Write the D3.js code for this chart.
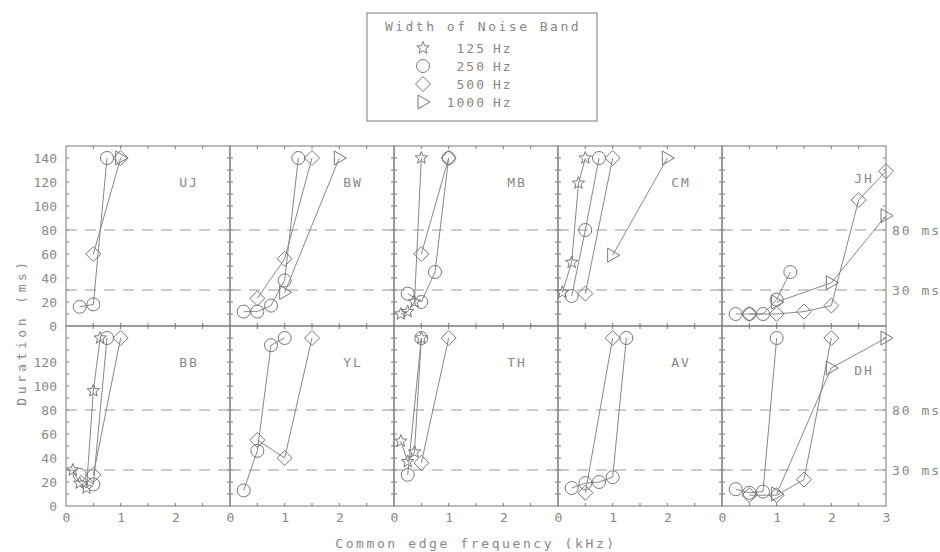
<!DOCTYPE html>
<html>
<head>
<meta charset="utf-8">
<title>Width of noise band</title>
<script src="https://d3js.org/d3.v7.min.js"></script>
<style>
  body { margin: 0; background: #fff; }
  text { font-family: "DejaVu Sans Mono", monospace; fill: #888; font-size: 13px; }
</style>
</head>
<body>
<script>
// bands and subjects
var bands = ['125', '250', '500', '1000']
var bandSymbols = ['star', 'circle', 'diamond', 'triangle']
var subjects = ['UJ', 'BW', 'MB', 'CM', 'JH', 'BB', 'YL', 'TH', 'AV', 'DH']

// [kHz, ms] points per band for each subject
var UJ = { '250': [[0.25, 16], [0.5, 18], [0.75, 140]],
           '500': [[0.5, 60], [1.0, 140]],
           '1000': [[1.0, 140]] }
var BW = { '250': [[0.25, 12], [0.5, 12], [0.75, 17], [1.0, 38], [1.25, 140]],
           '500': [[0.5, 23], [1.0, 56], [1.5, 140]],
           '1000': [[1.0, 28], [2.0, 140]] }
var MB = { '125': [[0.125, 10], [0.25, 12], [0.375, 20], [0.5, 140]],
           '250': [[0.25, 27], [0.5, 20], [0.75, 45], [1.0, 140]],
           '500': [[0.5, 60], [1.0, 140]] }
var CM = { '125': [[0.08, 28], [0.25, 53], [0.375, 119], [0.5, 140]],
           '250': [[0.25, 25], [0.5, 80], [0.75, 140]],
           '500': [[0.5, 27], [1.0, 140]],
           '1000': [[2.0, 140], [1.0, 59]] }
var JH = { '250': [[0.25, 10], [0.5, 10], [0.75, 10], [1.0, 22], [1.25, 45]],
           '500': [[0.5, 10], [1.0, 10], [1.5, 12], [2.0, 17], [2.5, 105], [3.0, 129]],
           '1000': [[1.0, 20], [2.0, 36], [3.0, 92]] }
var BB = { '125': [[0.125, 30], [0.25, 19], [0.375, 15], [0.5, 96], [0.625, 140]],
           '250': [[0.25, 26], [0.5, 18], [0.75, 140]],
           '500': [[0.5, 26], [1.0, 140]] }
var YL = { '250': [[0.25, 13], [0.5, 46], [0.75, 134], [1.0, 140]],
           '500': [[0.5, 55], [1.0, 40], [1.5, 140]] }
var TH = { '125': [[0.125, 54], [0.25, 37], [0.375, 45], [0.5, 140]],
           '250': [[0.25, 26], [0.5, 140]],
           '500': [[0.5, 36], [1.0, 140]] }
var AV = { '250': [[0.25, 15], [0.5, 19], [0.75, 20], [1.0, 24], [1.25, 140]],
           '500': [[0.5, 11], [1.0, 140]] }
var DH = { '250': [[0.25, 14], [0.5, 11], [0.75, 12], [1.0, 140]],
           '500': [[0.5, 9], [1.0, 9], [1.5, 22], [2.0, 140]],
           '1000': [[1.0, 10], [2.0, 115], [3.0, 140]] }
var subjectData = { UJ: UJ, BW: BW, MB: MB, CM: CM, JH: JH, BB: BB, YL: YL, TH: TH, AV: AV, DH: DH }

var yTicksTop = [0, 20, 40, 60, 80, 100, 120, 140]
var yTicksBottom = [0, 20, 40, 60, 80, 100, 120]
var refLines = [30, 80]

var w = 940, h = 552
var panelLeft = 66, panelTop = 146, pw = 164, ph = 180
var grey = '#7a7a7a'

var svg = d3.select('body').append('svg').attr('width', w).attr('height', h)

function symbolPath(type) {
    if (type == 'circle') return 'M6.5,0A6.5,6.5 0 1,1 -6.5,0A6.5,6.5 0 1,1 6.5,0Z'
    if (type == 'diamond') return 'M0,-7.5L7.5,0L0,7.5L-7.5,0Z'
    if (type == 'triangle') return 'M-5,-7L7,0L-5,7Z'
    var p = []
    for (var i = 0; i < 10; i++) {
        var r = i % 2 == 0 ? 6.5 : 2.8
        var a = -Math.PI / 2 + i * Math.PI / 5
        p.push([r * Math.cos(a), r * Math.sin(a)])
    }
    return 'M' + p.map(function(d) { return d[0].toFixed(2) + ',' + d[1].toFixed(2) }).join('L') + 'Z'
}

subjects.forEach(function(name, k) {
    var col = k % 5, row = Math.floor(k / 5)
    var x0 = panelLeft + col * pw, y0 = panelTop + row * ph
    var x = d3.scaleLinear().domain([0, 3]).range([x0, x0 + pw])
    var y = d3.scaleLinear().domain([0, 150]).range([y0 + ph, y0])
    var g = svg.append('g')

    g.append('rect').attr('x', x0).attr('y', y0).attr('width', pw).attr('height', ph)
        .attr('fill', 'none').attr('stroke', grey).attr('stroke-width', 1)

    // small inward ticks
    d3.range(10, 150, 10).forEach(function(v) {
        g.append('line').attr('x1', x(0)).attr('x2', x(0) + 3).attr('y1', y(v)).attr('y2', y(v)).attr('stroke', grey)
        g.append('line').attr('x1', x(3)).attr('x2', x(3) - 3).attr('y1', y(v)).attr('y2', y(v)).attr('stroke', grey)
    })
    d3.range(0.5, 3, 0.5).forEach(function(v) {
        g.append('line').attr('x1', x(v)).attr('x2', x(v)).attr('y1', y(0)).attr('y2', y(0) - 3).attr('stroke', grey)
        g.append('line').attr('x1', x(v)).attr('x2', x(v)).attr('y1', y(150)).attr('y2', y(150) + 3).attr('stroke', grey)
    })

    refLines.forEach(function(v) {
        g.append('line').attr('x1', x(0)).attr('x2', x(3)).attr('y1', y(v)).attr('y2', y(v))
            .attr('stroke', '#999').attr('stroke-dasharray', '11,8')
    })

    if (col == 0) {
        var ya = g.append('g').attr('transform', 'translate(' + x0 + ',0)')
            .call(d3.axisLeft(y).tickValues(row == 0 ? yTicksTop : yTicksBottom).tickSize(0).tickPadding(9))
        ya.select('.domain').remove()
        ya.selectAll('text').attr('fill', '#888').style('font-size', '13px').style('font-family', '"DejaVu Sans Mono", monospace')
    }
    if (row == 1) {
        var xa = g.append('g').attr('transform', 'translate(0,' + (y0 + ph) + ')')
            .call(d3.axisBottom(x).tickValues(col == 4 ? [0, 1, 2, 3] : [0, 1, 2]).tickFormat(d3.format('d')).tickSize(0).tickPadding(7))
        xa.select('.domain').remove()
        xa.selectAll('text').attr('fill', '#888').style('font-size', '13px').style('font-family', '"DejaVu Sans Mono", monospace')
    }
    if (col == 4) {
        refLines.forEach(function(v) {
            g.append('text').attr('x', x(3) + 6).attr('y', y(v)).attr('dy', '0.35em')
                .style('letter-spacing', '2px').text(v + ' ms')
        })
    }

    var lx = col == 4 ? 2.6 : 2.25
    var ly = col == 4 ? (row == 0 ? 123 : 113) : 120
    g.append('text').attr('x', x(lx)).attr('y', y(ly)).attr('dy', '0.35em')
        .attr('text-anchor', 'middle').style('letter-spacing', '2px').text(name)

    var line = d3.line().x(function(d) { return x(d[0]) }).y(function(d) { return y(d[1]) })
    var sd = subjectData[name]
    bands.forEach(function(b, bi) {
        if (!sd[b]) return
        g.append('path').attr('d', line(sd[b])).attr('fill', 'none').attr('stroke', '#888').attr('stroke-width', 1)
        g.selectAll(null).data(sd[b]).enter().append('path')
            .attr('d', symbolPath(bandSymbols[bi]))
            .attr('transform', function(d) { return 'translate(' + x(d[0]) + ',' + y(d[1]) + ')' })
            .attr('fill', 'none').attr('stroke', '#777').attr('stroke-width', 1)
    })
})

// legend
var lg = svg.append('g')
lg.append('rect').attr('x', 367).attr('y', 13).attr('width', 230).attr('height', 108)
    .attr('fill', 'none').attr('stroke', grey)
lg.append('text').attr('x', 483).attr('y', 26).attr('dy', '0.35em').attr('text-anchor', 'middle')
    .style('letter-spacing', '2.5px').text('Width of Noise Band')
bands.forEach(function(b, i) {
    var yy = 48 + i * 18
    lg.append('path').attr('d', symbolPath(bandSymbols[i])).attr('transform', 'translate(423,' + yy + ')')
        .attr('fill', 'none').attr('stroke', '#777')
    lg.append('text').attr('x', 486).attr('y', yy).attr('dy', '0.35em').attr('text-anchor', 'end')
        .style('letter-spacing', '2px').text(b)
    lg.append('text').attr('x', 493).attr('y', yy).attr('dy', '0.35em')
        .style('letter-spacing', '2px').text('Hz')
})

// axis titles
svg.append('text').attr('x', 476).attr('y', 543).attr('dy', '0.35em').attr('text-anchor', 'middle')
    .style('letter-spacing', '2.6px').text('Common edge frequency (kHz)')
svg.append('text').attr('transform', 'translate(21,332) rotate(-90)').attr('dy', '0.35em')
    .attr('text-anchor', 'middle').style('letter-spacing', '3.5px').text('Duration (ms)')
</script>
</body>
</html>
